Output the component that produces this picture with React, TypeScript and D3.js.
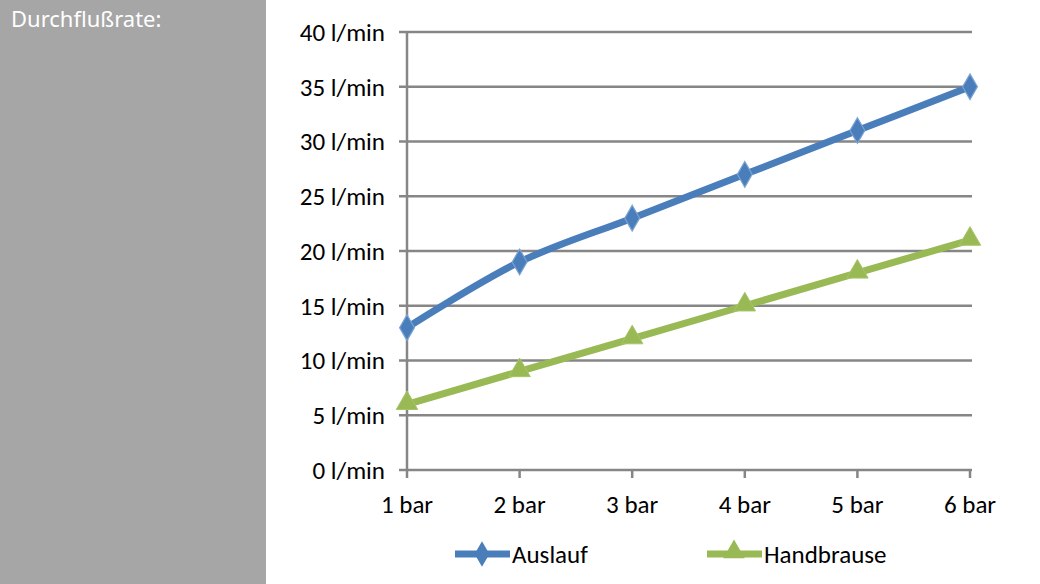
import * as d3 from 'd3'
import { useEffect, useRef } from 'react'

const PRESSURES = ['1 bar', '2 bar', '3 bar', '4 bar', '5 bar', '6 bar']
const AUSLAUF = [13, 19, 23, 27, 31, 35]
const HANDBRAUSE = [6, 9, 12, 15, 18, 21]
const Y_TICKS = [0, 5, 10, 15, 20, 25, 30, 35, 40]

const W = 1040
const H = 584
const BLUE = '#4a7ebb'
const GREEN = '#98b954'
const GRID = '#868686'
const FONT = "Carlito, 'Open Sans', 'Noto Sans', sans-serif"

export default function App() {
  const ref = useRef<SVGSVGElement | null>(null)

  useEffect(() => {
    const svgEl = ref.current
    if (!svgEl) return
    const svg = d3.select(svgEl)
    svg.selectAll('*').remove()

    // grey side panel
    svg.append('rect').attr('x', 0).attr('y', 0).attr('width', 266).attr('height', H).attr('fill', '#a6a6a6')
    svg
      .append('text')
      .attr('x', 11)
      .attr('y', 27)
      .attr('fill', '#fff')
      .attr('font-family', "'Noto Sans', sans-serif")
      .attr('font-size', 22)
      .text('Durchflußrate:')

    const x = d3.scalePoint<string>().domain(PRESSURES).range([407, 970])
    const y = d3.scaleLinear().domain([0, 40]).range([470, 32])

    const g = svg.append('g')

    // gridlines + y ticks
    for (const t of Y_TICKS) {
      g.append('line')
        .attr('x1', 399)
        .attr('x2', 972)
        .attr('y1', y(t))
        .attr('y2', y(t))
        .attr('stroke', GRID)
        .attr('stroke-width', 2.5)
      g.append('text')
        .attr('x', 385)
        .attr('y', y(t))
        .attr('dy', '0.35em')
        .attr('text-anchor', 'end')
        .attr('font-family', FONT)
        .attr('font-size', 25)
        .attr('fill', '#000')
        .text(`${t} l/min`)
    }

    // y axis
    g.append('line')
      .attr('x1', 407)
      .attr('x2', 407)
      .attr('y1', y(40))
      .attr('y2', y(0))
      .attr('stroke', GRID)
      .attr('stroke-width', 2.5)

    // x ticks
    for (const p of PRESSURES) {
      g.append('line')
        .attr('x1', x(p)!)
        .attr('x2', x(p)!)
        .attr('y1', y(0))
        .attr('y2', y(0) + 8)
        .attr('stroke', GRID)
        .attr('stroke-width', 2.5)
      g.append('text')
        .attr('x', x(p)!)
        .attr('y', 513)
        .attr('text-anchor', 'middle')
        .attr('font-family', FONT)
        .attr('font-size', 25)
        .attr('fill', '#000')
        .text(p)
    }

    const diamond = d3.symbol().type(d3.symbolDiamond).size(190)
    const triangle = d3.symbol().type(d3.symbolTriangle).size(200)

    // Handbrause
    const lineG = d3
      .line<number>()
      .x((_, i) => x(PRESSURES[i])!)
      .y((d) => y(d))
    g.append('path')
      .attr('d', lineG(HANDBRAUSE))
      .attr('fill', 'none')
      .attr('stroke', GREEN)
      .attr('stroke-width', 7)
    HANDBRAUSE.forEach((v, i) => {
      g.append('path')
        .attr('d', triangle())
        .attr('transform', `translate(${x(PRESSURES[i])},${y(v) - 1})`)
        .attr('fill', GREEN)
        .attr('stroke', '#a8c56a')
        .attr('stroke-width', 1)
    })

    // Auslauf (smoothed)
    const lineB = d3
      .line<number>()
      .x((_, i) => x(PRESSURES[i])!)
      .y((d) => y(d))
      .curve(d3.curveCatmullRom.alpha(0.5))
    g.append('path')
      .attr('d', lineB(AUSLAUF))
      .attr('fill', 'none')
      .attr('stroke', BLUE)
      .attr('stroke-width', 7)
    AUSLAUF.forEach((v, i) => {
      g.append('path')
        .attr('d', diamond())
        .attr('transform', `translate(${x(PRESSURES[i])},${y(v)})`)
        .attr('fill', BLUE)
        .attr('stroke', '#7aa3d4')
        .attr('stroke-width', 1.2)
    })

    // legend
    const legend = [
      { name: 'Auslauf', color: BLUE, sym: diamond, x0: 455 },
      { name: 'Handbrause', color: GREEN, sym: triangle, x0: 707 },
    ]
    for (const l of legend) {
      g.append('line')
        .attr('x1', l.x0)
        .attr('x2', l.x0 + 55)
        .attr('y1', 554)
        .attr('y2', 554)
        .attr('stroke', l.color)
        .attr('stroke-width', 7)
      g.append('path')
        .attr('d', l.sym())
        .attr('transform', `translate(${l.x0 + 27},${l.sym === triangle ? 552 : 554})`)
        .attr('fill', l.color)
      g.append('text')
        .attr('x', l.x0 + 57)
        .attr('y', 554)
        .attr('dy', '0.35em')
        .attr('font-family', FONT)
        .attr('font-size', 25)
        .attr('fill', '#000')
        .text(l.name)
    }
  }, [])

  return (
    <div style={{ position: 'fixed', left: 0, top: 0, width: W, height: H, background: '#fff' }}>
      <svg ref={ref} width={W} height={H} style={{ display: 'block' }} />
    </div>
  )
}
